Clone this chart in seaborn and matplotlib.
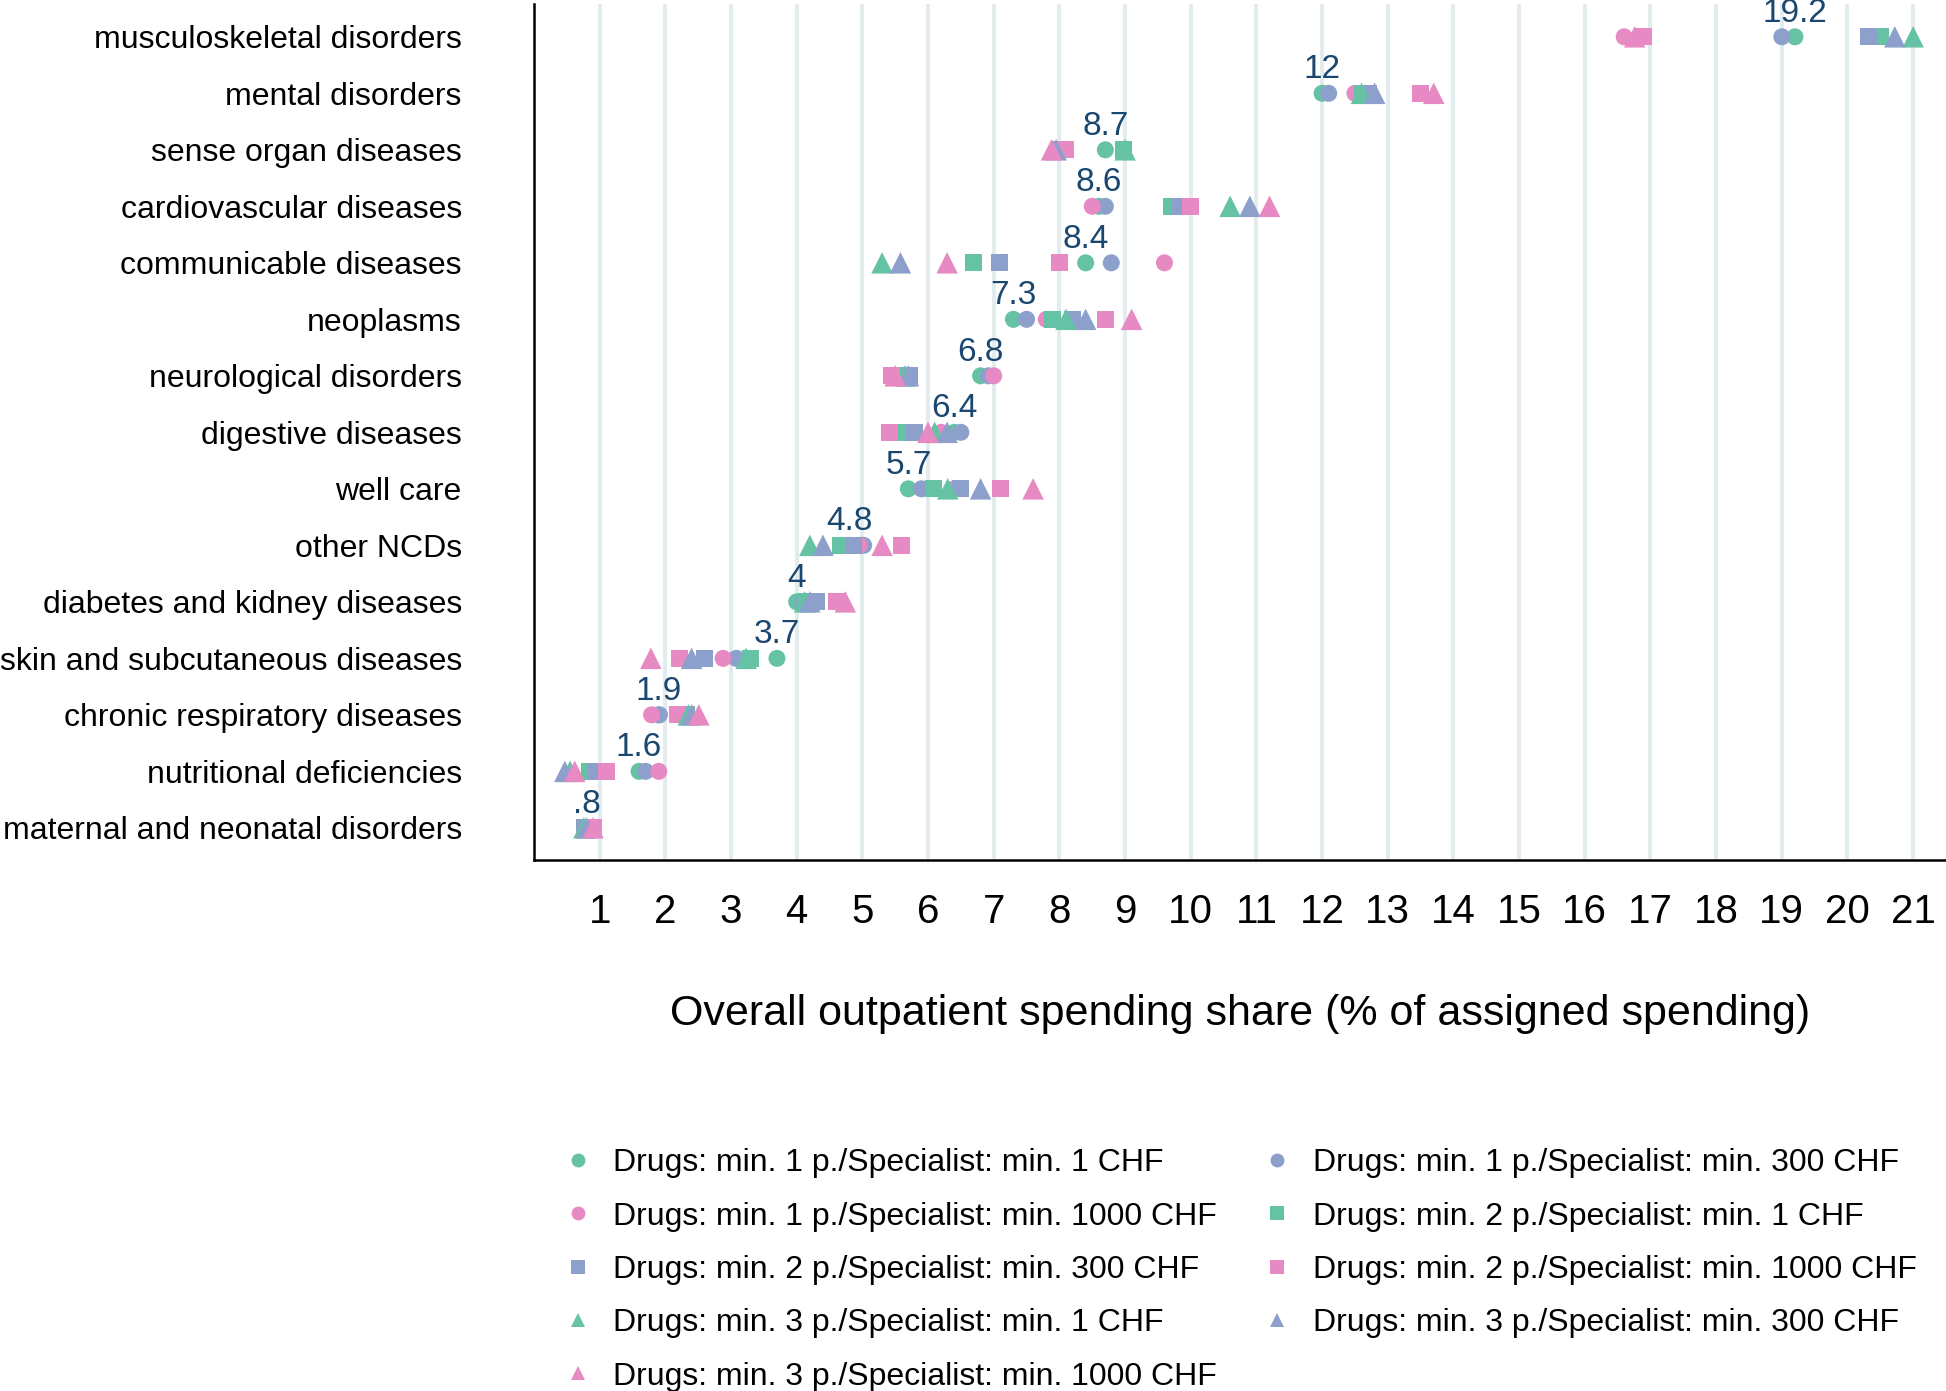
import numpy as np
import pandas as pd
import matplotlib
matplotlib.use("Agg")
import matplotlib.pyplot as plt
from matplotlib.lines import Line2D
import seaborn as sns


# Disease groups, top to bottom
diseases = [
    "musculoskeletal disorders", "mental disorders", "sense organ diseases",
    "cardiovascular diseases", "communicable diseases", "neoplasms",
    "neurological disorders", "digestive diseases", "well care", "other NCDs",
    "diabetes and kidney diseases", "skin and subcutaneous diseases",
    "chronic respiratory diseases", "nutritional deficiencies",
    "maternal and neonatal disorders",
]

# Spending shares (%) per definition
d1_s1 = [19.2, 12.0, 8.7, 8.6, 8.4, 7.3, 6.8, 6.4, 5.7, 4.8, 4.0, 3.7, 1.9, 1.6, 0.8]
d1_s300 = [19.0, 12.1, 7.98, 8.7, 8.79, 7.5, 6.92, 6.5, 5.9, 5.02, 4.1, 3.08, 1.91, 1.7, 0.82]
d1_s1000 = [16.6, 12.5, 8.05, 8.5, 9.6, 7.8, 7.0, 6.2, 6.4, 4.95, 4.65, 2.88, 1.79, 1.9, 0.88]
d2_s1 = [20.5, 12.62, 8.97, 9.7, 6.69, 7.9, 5.6, 5.67, 6.09, 4.66, 4.15, 3.3, 2.32, 0.85, 0.78]
d2_s300 = [20.32, 12.7, 8.0, 9.84, 7.09, 8.2, 5.72, 5.8, 6.5, 4.87, 4.3, 2.6, 2.3, 0.95, 0.77]
d2_s1000 = [16.9, 13.5, 8.09, 10.0, 8.0, 8.7, 5.45, 5.41, 7.1, 5.6, 4.61, 2.22, 2.19, 1.1, 0.9]
d3_s1 = [21.0, 12.6, 9.0, 10.6, 5.3, 8.1, 5.65, 6.1, 6.3, 4.2, 4.12, 3.23, 2.35, 0.55, 0.76]
d3_s300 = [20.72, 12.8, 7.95, 10.9, 5.58, 8.4, 5.7, 6.29, 6.8, 4.4, 4.2, 2.4, 2.4, 0.47, 0.8]
d3_s1000 = [16.76, 13.7, 7.88, 11.2, 6.29, 9.1, 5.5, 6.0, 7.6, 5.3, 4.74, 1.78, 2.51, 0.62, 0.9]

series = [d1_s1, d1_s300, d1_s1000, d2_s1, d2_s300, d2_s1000, d3_s1, d3_s300, d3_s1000]
drug_levels = ["1", "1", "1", "2", "2", "2", "3", "3", "3"]
spec_levels = ["1", "300", "1000", "1", "300", "1000", "1", "300", "1000"]

x_ticks = list(range(1, 22))

palette = {"1": "#66c2a5", "300": "#8da0cb", "1000": "#e78ac3"}
markers = {"1": "o", "2": "s", "3": "^"}
sizes = {"1": 150, "2": 150, "3": 240}

# long table, in drawing order (later series on top)
rows = []
for vals, dr, sp in zip(series, drug_levels, spec_levels):
    for dis, v in zip(diseases, vals):
        rows.append({"disease": dis, "share": v, "drugs": dr, "spec": sp})
df = pd.DataFrame(rows)

sns.set_style("white")
plt.rcParams["font.family"] = ["Liberation Sans", "DejaVu Sans"]
plt.rcParams["text.color"] = "black"
plt.rcParams["axes.labelcolor"] = "black"
plt.rcParams["xtick.color"] = "black"
plt.rcParams["ytick.color"] = "black"

fig = plt.figure(figsize=(19.46, 13.91), dpi=100)
ax = fig.add_axes([0.2744, 0.3817, 0.7256, 0.6154])

for xv in x_ticks:
    ax.axvline(xv, color="#e2ebee", lw=2.8, zorder=0)

# make sure the category axis follows the listed order
ax.scatter(np.zeros(len(diseases)), diseases, s=0)

for dr in ["1", "2", "3"]:
    sub = df[df["drugs"] == dr]
    sns.scatterplot(data=sub, x="share", y="disease", hue="spec",
                    palette=palette, marker=markers[dr], s=sizes[dr],
                    linewidth=0, legend=False, ax=ax, zorder=3)

# value labels above the first definition
for dis, v in zip(diseases, d1_s1):
    lab = f"{v:g}"
    if lab.startswith("0."):
        lab = lab[1:]
    ax.annotate(lab, (v, dis), xytext=(0, 11), textcoords="offset points",
                ha="center", va="baseline", fontsize=24, color="#1a476f", zorder=4)

ax.set_xlim(0, 21.5)
ax.set_ylim(14.57, -0.58)
ax.set_xticks(x_ticks)
ax.set_xticklabels([str(t) for t in x_ticks], fontsize=29)
ax.tick_params(axis="x", length=16, width=1.5, pad=8, color="black", labelcolor="black")
ax.tick_params(axis="y", length=0, pad=52, labelsize=23, labelcolor="black")
ax.set_xlabel("Overall outpatient spending share (% of assigned spending)",
              fontsize=31, labelpad=45, color="black")
ax.set_ylabel("")

for side in ["top", "right"]:
    ax.spines[side].set_visible(False)
for side in ["left", "bottom"]:
    ax.spines[side].set_color("black")
    ax.spines[side].set_linewidth(1.8)

# legend, filled row by row like the original
handles = []
labels = []
for dr, sp in zip(drug_levels, spec_levels):
    handles.append(Line2D([], [], linestyle="", marker=markers[dr],
                          color=palette[sp], markersize=10, markeredgewidth=0))
    labels.append(f"Drugs: min. {dr} p./Specialist: min. {sp} CHF")
order = [0, 2, 4, 6, 8, 1, 3, 5, 7]
leg = fig.legend([handles[i] for i in order], [labels[i] for i in order],
                 ncol=2, loc="upper left", bbox_to_anchor=(0.2904, 0.1745),
                 frameon=False, fontsize=23, handlelength=0.8, handletextpad=0.7,
                 columnspacing=1.5, labelspacing=0.73, borderpad=0, borderaxespad=0)
for t in leg.get_texts():
    t.set_color("black")

fig.savefig("out.png", dpi=100)
